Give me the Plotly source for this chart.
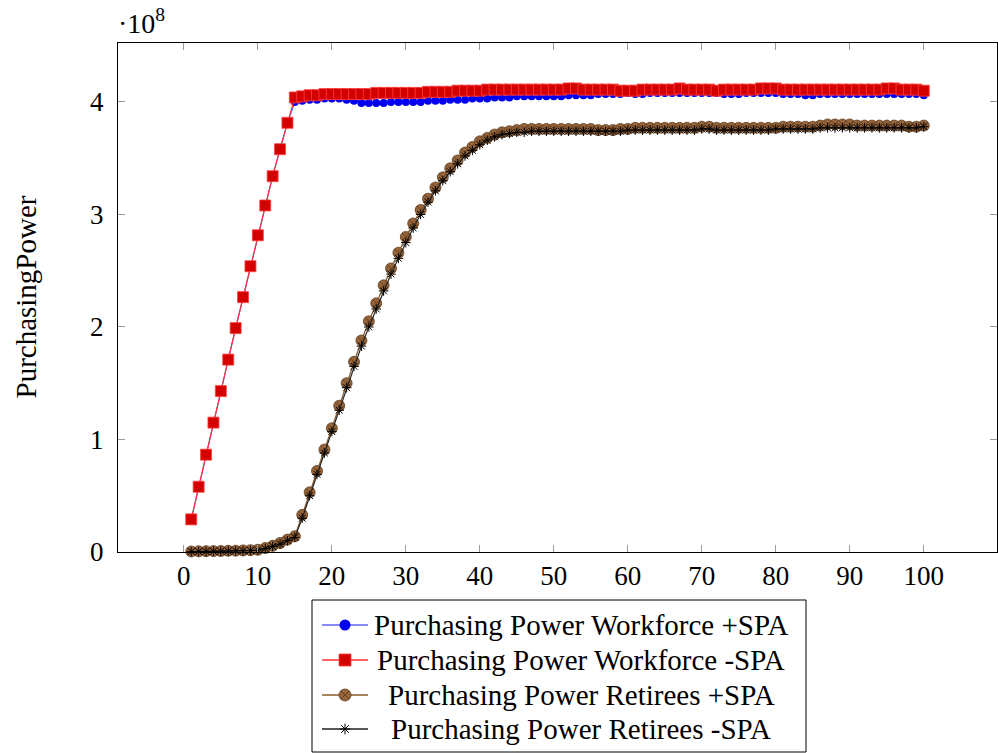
import plotly.graph_objects as go

# Time steps
steps = list(range(1, 101))

# Purchasing power (in units of 1e8)
workforce_spa = [
    0.29, 0.58, 0.865, 1.15, 1.43, 1.71, 1.99, 2.265, 2.54, 2.815,
    3.08, 3.34, 3.58, 3.815, 4.00, 4.01, 4.02, 4.02, 4.03, 4.03,
    4.03, 4.02, 4.01, 3.99, 3.99, 3.99, 3.99, 4.00, 4.00, 4.00,
    4.00, 4.00, 4.01, 4.01, 4.01, 4.02, 4.02, 4.02, 4.03, 4.03,
    4.03, 4.04, 4.04, 4.04, 4.05, 4.05, 4.05, 4.05, 4.05, 4.05,
    4.05, 4.06, 4.06, 4.06, 4.06, 4.07, 4.07, 4.07, 4.07, 4.08,
    4.07, 4.07, 4.08, 4.08, 4.08, 4.08, 4.08, 4.08, 4.08, 4.08,
    4.08, 4.08, 4.07, 4.07, 4.07, 4.08, 4.08, 4.08, 4.08, 4.08,
    4.07, 4.07, 4.07, 4.06, 4.06, 4.07, 4.07, 4.07, 4.07, 4.07,
    4.07, 4.07, 4.07, 4.07, 4.07, 4.07, 4.07, 4.07, 4.07, 4.06,
]
workforce_no_spa = [
    0.29, 0.58, 0.865, 1.15, 1.43, 1.71, 1.99, 2.265, 2.54, 2.815,
    3.08, 3.34, 3.58, 3.815, 4.04, 4.05, 4.06, 4.06, 4.07, 4.07,
    4.07, 4.07, 4.07, 4.07, 4.07, 4.08, 4.08, 4.08, 4.08, 4.08,
    4.08, 4.08, 4.09, 4.09, 4.09, 4.09, 4.10, 4.10, 4.10, 4.10,
    4.11, 4.11, 4.11, 4.11, 4.11, 4.11, 4.11, 4.11, 4.11, 4.11,
    4.11, 4.12, 4.12, 4.11, 4.11, 4.11, 4.11, 4.11, 4.10, 4.10,
    4.10, 4.11, 4.11, 4.11, 4.11, 4.11, 4.12, 4.11, 4.11, 4.11,
    4.11, 4.10, 4.11, 4.11, 4.11, 4.11, 4.11, 4.12, 4.12, 4.12,
    4.11, 4.11, 4.11, 4.11, 4.11, 4.11, 4.11, 4.11, 4.11, 4.11,
    4.11, 4.11, 4.11, 4.11, 4.12, 4.12, 4.11, 4.11, 4.11, 4.10,
]
retirees_spa = [
    0.005, 0.006, 0.007, 0.008, 0.009, 0.011, 0.012, 0.014, 0.016, 0.02,
    0.035, 0.055, 0.08, 0.11, 0.14, 0.33, 0.53, 0.72, 0.91, 1.10,
    1.30, 1.50, 1.69, 1.88, 2.05, 2.21, 2.37, 2.52, 2.66, 2.80,
    2.92, 3.04, 3.14, 3.24, 3.33, 3.41, 3.48, 3.55, 3.60, 3.65,
    3.68, 3.71, 3.73, 3.74, 3.75, 3.76, 3.76, 3.76, 3.76, 3.76,
    3.76, 3.76, 3.76, 3.76, 3.76, 3.75, 3.75, 3.75, 3.76, 3.76,
    3.77, 3.77, 3.77, 3.77, 3.77, 3.77, 3.77, 3.77, 3.77, 3.78,
    3.78, 3.77, 3.77, 3.77, 3.77, 3.77, 3.77, 3.77, 3.77, 3.77,
    3.78, 3.78, 3.78, 3.78, 3.78, 3.79, 3.80, 3.80, 3.80, 3.80,
    3.79, 3.79, 3.79, 3.79, 3.79, 3.79, 3.79, 3.78, 3.78, 3.79,
]
retirees_no_spa = [
    0.003, 0.004, 0.005, 0.006, 0.007, 0.008, 0.010, 0.011, 0.013, 0.016,
    0.03, 0.05, 0.07, 0.10, 0.13, 0.30, 0.50, 0.69, 0.88, 1.07,
    1.26, 1.46, 1.65, 1.83, 2.00, 2.16, 2.32, 2.47, 2.61, 2.75,
    2.88, 3.00, 3.11, 3.21, 3.30, 3.38, 3.45, 3.52, 3.57, 3.62,
    3.66, 3.69, 3.71, 3.72, 3.73, 3.73, 3.74, 3.74, 3.74, 3.74,
    3.74, 3.74, 3.74, 3.74, 3.74, 3.74, 3.74, 3.74, 3.74, 3.75,
    3.75, 3.75, 3.75, 3.75, 3.75, 3.75, 3.75, 3.75, 3.75, 3.76,
    3.76, 3.75, 3.75, 3.75, 3.75, 3.75, 3.75, 3.75, 3.75, 3.76,
    3.76, 3.76, 3.76, 3.76, 3.76, 3.77, 3.77, 3.77, 3.77, 3.77,
    3.77, 3.77, 3.77, 3.77, 3.77, 3.77, 3.77, 3.77, 3.77, 3.78,
]

series_names = [
    "Purchasing Power Workforce +SPA",
    "Purchasing Power Workforce -SPA",
    "Purchasing Power Retirees +SPA",
    "Purchasing Power Retirees -SPA",
]

SCALE = 1e8
x_ticks = list(range(0, 101, 10))
y_ticks = [0, 1, 2, 3, 4]

FONT = "Liberation Serif"
W, H = 998, 753

# pixel frame of the main axes and of the legend box
PLOT_L, PLOT_R, PLOT_T, PLOT_B = 118, 997, 43, 552
LEG_L, LEG_R, LEG_T, LEG_B = 312, 806, 600, 752
LEG_ROWS = [625, 660, 695, 729]
LEG_LINE = (322, 368)
LEG_TEXT_X = 581

def px_x(p):
    return p / W

def px_y(p):
    return 1 - p / H

styles = [
    dict(line=dict(color="#6060ff", width=1.2),
         marker=dict(symbol="circle", size=8, color="#0000f0",
                     line=dict(color="#0000f0", width=0))),
    dict(line=dict(color="#ff3030", width=1.2),
         marker=dict(symbol="square", size=11, color="#d40000",
                     line=dict(color="#ff4040", width=0.8))),
    dict(line=dict(color="#8a5a2a", width=1.2),
         marker=dict(symbol="circle-x", size=11, color="#96643a",
                     line=dict(color="#5e3c1c", width=0.8))),
    dict(line=dict(color="#222222", width=1.2),
         marker=dict(symbol="asterisk-open", size=8, color="#000000",
                     line=dict(color="#000000", width=1))),
]
# legend sample marker sizes
legend_marker_sizes = [11, 12, 12, 9]

fig = go.Figure()

for name, vals, st in zip(series_names,
                          [workforce_spa, workforce_no_spa, retirees_spa, retirees_no_spa],
                          styles):
    fig.add_trace(go.Scatter(
        x=steps, y=[v * SCALE for v in vals], mode="lines+markers",
        name=name, line=st["line"], marker=st["marker"],
        cliponaxis=False, showlegend=False,
    ))

# legend samples drawn on a pixel-scaled helper axis pair
for row, name, st, msize in zip(LEG_ROWS, series_names, styles, legend_marker_sizes):
    fig.add_trace(go.Scatter(
        x=list(LEG_LINE), y=[row, row], mode="lines",
        line=dict(color=st["line"]["color"], width=1.6),
        xaxis="x2", yaxis="y2", showlegend=False, hoverinfo="skip",
    ))
    fig.add_trace(go.Scatter(
        x=[(LEG_LINE[0] + LEG_LINE[1]) / 2], y=[row], mode="markers",
        marker={**st["marker"], "size": msize}, xaxis="x2", yaxis="y2",
        showlegend=False, hoverinfo="skip", cliponaxis=False,
    ))
    fig.add_annotation(
        text=name, xref="paper", yref="paper",
        x=px_x(LEG_TEXT_X), y=px_y(row), showarrow=False,
        xanchor="center", yanchor="middle",
        font=dict(family=FONT, size=29, color="#000000"),
    )

axis_common = dict(
    showline=True, linecolor="#000000", linewidth=1,
    mirror="ticks", ticks="inside", ticklen=7, tickcolor="#9a9a9a",
    tickwidth=1, showgrid=False, zeroline=False, automargin=False,
    tickfont=dict(family=FONT, size=27, color="#000000"),
)

fig.update_layout(
    xaxis=dict(
        domain=[px_x(PLOT_L), px_x(PLOT_R)], anchor="y",
        range=[-8.9, 109.9], tickvals=x_ticks,
        ticktext=[str(t) for t in x_ticks], **axis_common,
    ),
    yaxis=dict(
        domain=[px_y(PLOT_B), px_y(PLOT_T)], anchor="x",
        range=[0, 4.524 * SCALE], tickvals=[t * SCALE for t in y_ticks],
        ticktext=[str(t) for t in y_ticks], ticklabelstandoff=8, **axis_common,
    ),
    xaxis2=dict(
        domain=[px_x(LEG_L), px_x(LEG_R)], anchor="y2",
        range=[LEG_L, LEG_R], visible=False, fixedrange=True, automargin=False,
    ),
    yaxis2=dict(
        domain=[px_y(LEG_B), px_y(LEG_T)], anchor="x2",
        range=[LEG_B, LEG_T], visible=False, fixedrange=True, automargin=False,
    ),
)

# legend frame
fig.add_shape(
    type="rect", xref="paper", yref="paper",
    x0=px_x(LEG_L), x1=px_x(LEG_R), y0=px_y(LEG_B), y1=px_y(LEG_T),
    line=dict(color="#000000", width=1), fillcolor="rgba(0,0,0,0)", layer="below",
)

fig.add_annotation(
    text="PurchasingPower", xref="paper", yref="paper",
    x=px_x(25), y=px_y((PLOT_T + PLOT_B) / 2), textangle=-90, showarrow=False,
    font=dict(family=FONT, size=29, color="#000000"),
    xanchor="center", yanchor="middle",
)
fig.add_annotation(
    text="·10<sup>8</sup>", xref="paper", yref="paper",
    x=px_x(PLOT_L - 2), y=px_y(PLOT_T - 2), showarrow=False,
    font=dict(family=FONT, size=28, color="#000000"),
    xanchor="left", yanchor="bottom",
)

fig.update_layout(
    width=W, height=H,
    margin=dict(l=0, r=0, t=0, b=0, autoexpand=False),
    plot_bgcolor="#ffffff", paper_bgcolor="#ffffff",
    showlegend=False,
)

fig.write_html("out.html")
